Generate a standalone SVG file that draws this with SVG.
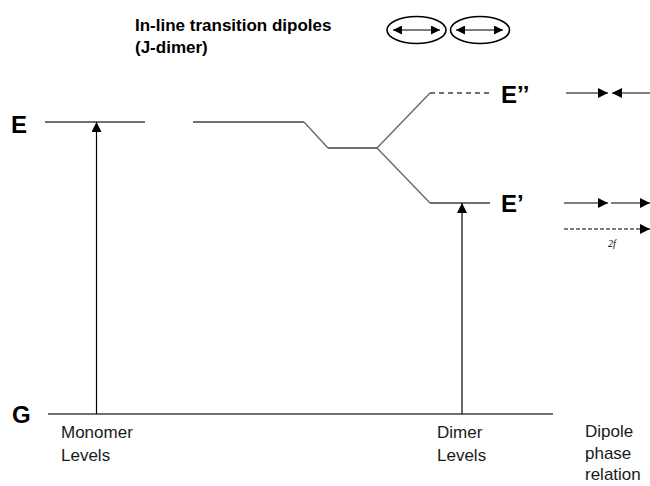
<svg xmlns="http://www.w3.org/2000/svg" width="650" height="486" viewBox="0 0 650 486">
<defs>
<style>
.lvl{stroke:#404040;stroke-width:1.4;fill:none}
.slope{stroke:#6a6a6a;stroke-width:1.4;fill:none}
.arr{stroke:#000;stroke-width:1.2;fill:none}
.big{font-family:"Liberation Sans",Arial,sans-serif;font-weight:bold;font-size:24px;fill:#000}
.lab{font-family:"Liberation Sans",Arial,sans-serif;font-size:17px;fill:#1a1a1a}
.title{font-family:"Liberation Sans",Arial,sans-serif;font-weight:bold;font-size:17px;fill:#000}
.ell{fill:none;stroke:#000;stroke-width:1.6}
</style>
<marker id="ah" viewBox="0 0 10 10" refX="10" refY="5" markerWidth="10" markerHeight="10" markerUnits="userSpaceOnUse" orient="auto-start-reverse">
<path d="M0,0 L10,5 L0,10 Z" fill="#000"/>
</marker>
<marker id="ahs" viewBox="0 0 10 10" refX="10" refY="5" markerWidth="9" markerHeight="9" markerUnits="userSpaceOnUse" orient="auto-start-reverse">
<path d="M0,0 L10,5 L0,10 Z" fill="#000"/>
</marker>
</defs>
<rect width="650" height="486" fill="#fff"/>

<g id="title">
<text class="title" x="135" y="31">In-line transition dipoles</text>
<text class="title" x="135" y="53">(J-dimer)</text>
</g>

<g id="dipole-pair">
<ellipse class="ell" cx="416.5" cy="30" rx="29.5" ry="13.5"/>
<ellipse class="ell" cx="480" cy="30" rx="29.5" ry="13.5"/>
<line class="arr" x1="393" y1="30" x2="440" y2="30" marker-start="url(#ahs)" marker-end="url(#ahs)"/>
<line class="arr" x1="456" y1="30" x2="503" y2="30" marker-start="url(#ahs)" marker-end="url(#ahs)"/>
</g>

<g id="level-E">
<text class="big" x="11" y="133">E</text>
<line class="lvl" x1="45" y1="122" x2="145" y2="122"/>
</g>

<g id="level-G">
<text class="big" x="12" y="423">G</text>
<line class="lvl" x1="48" y1="414" x2="553" y2="414" stroke="#222"/>
</g>

<g id="dimer-levels">
<polyline class="lvl" points="193,122 304,122"/>
<polyline class="slope" points="304,122 328,148"/>
<line class="lvl" x1="328" y1="148" x2="377" y2="148"/>
<polyline class="slope" points="377,148 430,93"/>
<polyline class="slope" points="377,148 430,203"/>
<line class="lvl" x1="430" y1="93" x2="490" y2="93" stroke-dasharray="5,4"/>
<line class="lvl" x1="430" y1="203" x2="490" y2="203"/>
</g>

<g id="label-E2">
<text class="big" x="501" y="103">E’’</text>
</g>
<g id="label-E1">
<text class="big" x="501" y="212">E’</text>
</g>

<g id="connectors">
<line class="arr" x1="96.5" y1="414" x2="96.5" y2="122" marker-end="url(#ah)"/>
<line class="arr" x1="462" y1="414" x2="462" y2="203" marker-end="url(#ah)"/>
<line class="arr" x1="566" y1="93" x2="608" y2="93" marker-end="url(#ah)"/>
<line class="arr" x1="655" y1="93" x2="612" y2="93" marker-end="url(#ah)"/>
<line class="arr" x1="564" y1="203" x2="608" y2="203" marker-end="url(#ah)"/>
<line class="arr" x1="611" y1="203" x2="650" y2="203" marker-end="url(#ah)"/>
<line class="arr" x1="564" y1="229" x2="650" y2="229" stroke-dasharray="4,2" marker-end="url(#ah)"/>
</g>

<g id="label-2f">
<text x="608" y="247" font-family="Liberation Serif,serif" font-style="italic" font-size="10" fill="#000">2f</text>
</g>

<g id="label-monomer">
<text class="lab" x="61" y="438">Monomer</text>
<text class="lab" x="61" y="461">Levels</text>
</g>
<g id="label-dimer">
<text class="lab" x="437" y="438">Dimer</text>
<text class="lab" x="437" y="461">Levels</text>
</g>
<g id="label-dipole">
<text class="lab" x="585" y="437">Dipole</text>
<text class="lab" x="585" y="459">phase</text>
<text class="lab" x="585" y="480">relation</text>
</g>
</svg>
